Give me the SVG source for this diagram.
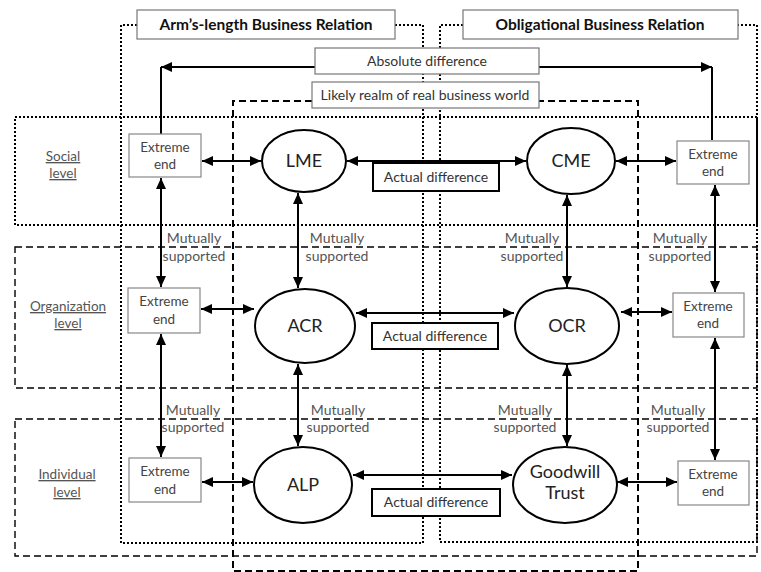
<svg xmlns="http://www.w3.org/2000/svg" width="761" height="572" viewBox="0 0 761 572">
<style>
text{font-family:Lato,"Liberation Sans",sans-serif;text-anchor:middle;fill:#333}
.hdr{font-size:15.5px;font-weight:bold;fill:#111}
.ell{fill:#fff;stroke:#000;stroke-width:2}
.etx{font-size:18px;fill:#222}
.ext{fill:#fff;stroke:#888;stroke-width:1.2}
.xtx{font-size:13.5px;fill:#444}
.act{fill:#fff;stroke:#000;stroke-width:2}
.atx{font-size:14px;fill:#333}
.box{fill:#fff;stroke:#777;stroke-width:1.2}
.dot{fill:none;stroke:#000;stroke-width:2;stroke-dasharray:2 2}
.dash{fill:none;stroke:#000;stroke-width:1.4;stroke-dasharray:7 4}
.dash2{fill:none;stroke:#000;stroke-width:2;stroke-dasharray:7 4}
.lvl{font-size:13.5px;fill:#555;text-decoration:underline}
.ms{font-size:14px;fill:#555}
.c{fill:none;stroke:#000;stroke-width:2}
</style>
<defs>
<marker id="ah" markerUnits="userSpaceOnUse" markerWidth="11" markerHeight="10" refX="11" refY="5" orient="auto-start-reverse"><path d="M0,0 L11,5 L0,10 z" fill="#000"/></marker>
</defs>
<g id="regions">
<path class="dot" d="M137,25 H121 V543 H423 V25 H395"/>
<path class="dot" d="M463,25 H440 V542 H757 V25 H738"/>
<rect class="dot" x="15" y="117" width="742" height="108"/>
<rect class="dash" x="15" y="247" width="742" height="141"/>
<rect class="dash" x="15" y="419" width="742" height="137"/>
<path class="dash2" d="M312,101 H233 V571 H638 V101 H539"/>
</g>
<g id="connectors">
<path class="c" d="M315,67 H161" marker-end="url(#ah)"/>
<path class="c" d="M161,67 V134"/>
<path class="c" d="M539,67 H712" marker-end="url(#ah)"/>
<path class="c" d="M712,67 V140"/>
<path class="c" d="M202,161 H261" marker-start="url(#ah)" marker-end="url(#ah)"/>
<path class="c" d="M347,161 H526" marker-start="url(#ah)" marker-end="url(#ah)"/>
<path class="c" d="M616,161 H676" marker-start="url(#ah)" marker-end="url(#ah)"/>
<path class="c" d="M201,309 H254" marker-start="url(#ah)" marker-end="url(#ah)"/>
<path class="c" d="M356,313 H514" marker-start="url(#ah)" marker-end="url(#ah)"/>
<path class="c" d="M621,312 H672" marker-start="url(#ah)" marker-end="url(#ah)"/>
<path class="c" d="M202,482 H253" marker-start="url(#ah)" marker-end="url(#ah)"/>
<path class="c" d="M353,475 H512" marker-start="url(#ah)" marker-end="url(#ah)"/>
<path class="c" d="M617,482 H677" marker-start="url(#ah)" marker-end="url(#ah)"/>
<path class="c" d="M161,178 V287" marker-start="url(#ah)" marker-end="url(#ah)"/>
<path class="c" d="M161,334 V457" marker-start="url(#ah)" marker-end="url(#ah)"/>
<path class="c" d="M298,193 V288" marker-start="url(#ah)" marker-end="url(#ah)"/>
<path class="c" d="M298,364 V446" marker-start="url(#ah)" marker-end="url(#ah)"/>
<path class="c" d="M567,195 V287" marker-start="url(#ah)" marker-end="url(#ah)"/>
<path class="c" d="M567,365 V446" marker-start="url(#ah)" marker-end="url(#ah)"/>
<path class="c" d="M715,185 V292" marker-start="url(#ah)" marker-end="url(#ah)"/>
<path class="c" d="M715,338 V460" marker-start="url(#ah)" marker-end="url(#ah)"/>
</g>
<g id="headers">
<rect class="box" x="137" y="10" width="258" height="29"/>
<text class="hdr" x="266" y="30">Arm’s-length Business Relation</text>
<rect class="box" x="463" y="10" width="275" height="29"/>
<text class="hdr" x="600" y="30">Obligational Business Relation</text>
</g>
<g id="absolute-difference">
<rect class="box" x="315" y="48" width="224" height="26"/>
<text class="atx" x="427" y="66">Absolute difference</text>
</g>
<g id="likely-realm">
<rect class="box" x="312" y="82" width="227" height="26"/>
<text class="atx" x="425" y="100">Likely realm of real business world</text>
</g>
<g id="level-labels">
<text class="lvl" x="63" y="161">Social</text>
<text class="lvl" x="63" y="178">level</text>
<text class="lvl" x="68" y="311">Organization</text>
<text class="lvl" x="68" y="328">level</text>
<text class="lvl" x="67" y="479">Individual</text>
<text class="lvl" x="67" y="497">level</text>
</g>
<g id="extreme-left-social"><rect class="ext" x="129" y="134" width="72" height="43"/><text class="xtx" x="165" y="152">Extreme</text><text class="xtx" x="165" y="169">end</text></g>
<g id="extreme-left-org"><rect class="ext" x="128" y="288" width="72" height="45"/><text class="xtx" x="164" y="306">Extreme</text><text class="xtx" x="164" y="324">end</text></g>
<g id="extreme-left-ind"><rect class="ext" x="129" y="458" width="72" height="44"/><text class="xtx" x="165" y="476">Extreme</text><text class="xtx" x="165" y="494">end</text></g>
<g id="extreme-right-social"><rect class="ext" x="677" y="141" width="72" height="43"/><text class="xtx" x="713" y="159">Extreme</text><text class="xtx" x="713" y="176">end</text></g>
<g id="extreme-right-org"><rect class="ext" x="673" y="293" width="71" height="44"/><text class="xtx" x="708" y="311">Extreme</text><text class="xtx" x="708" y="328">end</text></g>
<g id="extreme-right-ind"><rect class="ext" x="678" y="461" width="71" height="44"/><text class="xtx" x="713" y="479">Extreme</text><text class="xtx" x="713" y="496">end</text></g>
<g id="LME"><ellipse class="ell" cx="304" cy="161" rx="42" ry="31"/><text class="etx" x="304" y="167">LME</text></g>
<g id="CME"><ellipse class="ell" cx="571" cy="161" rx="44" ry="33"/><text class="etx" x="571" y="167">CME</text></g>
<g id="ACR"><ellipse class="ell" cx="305" cy="326" rx="50" ry="37"/><text class="etx" x="305" y="332">ACR</text></g>
<g id="OCR"><ellipse class="ell" cx="567" cy="326" rx="52" ry="38"/><text class="etx" x="567" y="332">OCR</text></g>
<g id="ALP"><ellipse class="ell" cx="303" cy="485" rx="49" ry="38"/><text class="etx" x="303" y="491">ALP</text></g>
<g id="GoodwillTrust"><ellipse class="ell" cx="565" cy="485" rx="52" ry="38"/><text class="etx" x="565" y="478">Goodwill</text><text class="etx" x="565" y="499">Trust</text></g>
<g id="actual-social"><rect class="act" x="373" y="163" width="126" height="28"/><text class="atx" x="436" y="182">Actual difference</text></g>
<g id="actual-org"><rect class="act" x="372" y="323" width="126" height="26"/><text class="atx" x="435" y="341">Actual difference</text></g>
<g id="actual-ind"><rect class="act" x="372" y="489" width="128" height="27"/><text class="atx" x="436" y="507">Actual difference</text></g>
<g id="mutual-labels">
<text class="ms" x="194" y="243">Mutually</text><text class="ms" x="194" y="261">supported</text>
<text class="ms" x="337" y="243">Mutually</text><text class="ms" x="337" y="261">supported</text>
<text class="ms" x="532" y="243">Mutually</text><text class="ms" x="532" y="261">supported</text>
<text class="ms" x="680" y="243">Mutually</text><text class="ms" x="680" y="261">supported</text>
<text class="ms" x="193" y="415">Mutually</text><text class="ms" x="193" y="432">supported</text>
<text class="ms" x="338" y="415">Mutually</text><text class="ms" x="338" y="432">supported</text>
<text class="ms" x="525" y="415">Mutually</text><text class="ms" x="525" y="432">supported</text>
<text class="ms" x="678" y="415">Mutually</text><text class="ms" x="678" y="432">supported</text>
</g>
</svg>
